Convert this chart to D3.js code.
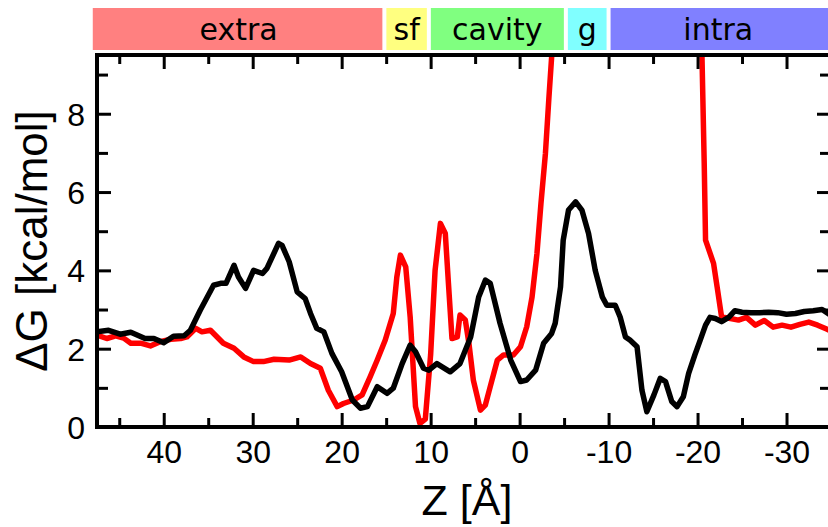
<!DOCTYPE html>
<html>
<head>
<meta charset="utf-8">
<script src="https://cdn.jsdelivr.net/npm/d3@7"></script>
<style>
  html, body { margin: 0; padding: 0; background: #fff; }
  svg { display: block; }
</style>
</head>
<body>
<svg id="chart" width="828" height="527"></svg>
<script>
// ---- data ----
const regionNames = ["extra", "sf", "cavity", "g", "intra"];
const regionBounds = [48.2, 15.2, 10.2, -5.2, -10, -36];
const regionColors = ["#ff8080", "#ffff80", "#80ff80", "#80ffff", "#8080ff"];

const zBlack = [47.5, 46.2, 44.9, 43.7, 42.1, 41.1, 40.0, 38.9, 37.7, 37.0, 35.9, 34.4, 33.6, 33.0, 32.1, 31.6, 30.8, 29.9, 28.9, 28.4,
  27.1, 26.7, 25.9, 25.0, 24.1, 23.5, 22.8, 22.0, 21.1, 20.0, 18.8, 17.9, 17.1, 16.0, 14.9, 14.2, 13.2, 12.3, 11.7, 10.8,
  10.2, 9.3, 7.8, 6.7, 5.5, 4.6, 3.85, 3.3, 2.2, 1.0, -0.1, -0.8, -1.8, -2.7, -3.6, -4.0, -4.6, -4.9, -5.5, -6.3,
  -7.0, -7.75, -8.5, -9.3, -9.8, -10.75, -11.3, -11.9, -12.4, -13.2, -13.75, -14.3, -15.1, -15.8, -16.4, -17.1, -17.7, -18.4, -19.0, -19.7,
  -20.3, -20.9, -21.4, -22.0, -22.7, -23.5, -24.2, -25, -26, -27, -28, -29, -30, -31, -32, -33, -34, -35];
const gBlack = [2.43, 2.47, 2.37, 2.42, 2.26, 2.26, 2.15, 2.32, 2.33, 2.47, 2.98, 3.62, 3.67, 3.67, 4.13, 3.83, 3.54, 4.0, 3.92, 4.05,
  4.69, 4.64, 4.22, 3.45, 3.28, 2.90, 2.52, 2.43, 1.88, 1.41, 0.69, 0.48, 0.52, 1.03, 0.86, 0.99, 1.62, 2.09, 1.92, 1.50,
  1.45, 1.62, 1.41, 1.62, 2.30, 3.32, 3.75, 3.67, 2.65, 1.71, 1.16, 1.20, 1.45, 2.14, 2.39, 2.65, 3.58, 4.77, 5.54, 5.75,
  5.54, 4.94, 4.0, 3.32, 3.11, 3.11, 2.81, 2.30, 2.22, 2.05, 0.94, 0.39, 0.82, 1.24, 1.16, 0.65, 0.52, 0.77, 1.37, 1.84,
  2.22, 2.60, 2.80, 2.77, 2.69, 2.80, 2.97, 2.93, 2.92, 2.92, 2.93, 2.92, 2.88, 2.90, 2.95, 2.97, 3.0, 2.85];

const zRed = [47.5, 46.4, 45.4, 44.5, 43.7, 42.6, 41.5, 40.4, 39.2, 38.1, 37.4, 36.4, 35.7, 34.75, 33.3, 32.1, 31.0, 29.9, 28.8, 27.6,
  25.9, 24.6, 23.5, 22.4, 21.5, 20.5, 19.8, 18.65, 17.7, 16.8, 16.0, 15.1, 14.2, 13.8, 13.4, 12.8, 12.3, 11.7, 11.2, 10.6,
  10.0, 9.5, 8.9, 8.35, 8.0, 7.6, 7.0, 6.7, 6.1, 5.7, 5.2, 4.4, 3.85, 3.3, 2.5, 1.8, 0.7, -0.1, -0.8, -1.4,
  -1.95, -2.4, -2.9, -3.3, -3.6, -3.9, -20.3, -20.5, -20.75, -20.9, -21.8, -22.2, -22.7, -23.7, -24.6, -25.5, -26.5, -27.5, -28.5, -29.5,
  -30.5, -31.5, -32.5, -33.5, -34.5, -35];
const gRed = [2.35, 2.26, 2.33, 2.27, 2.14, 2.14, 2.07, 2.18, 2.24, 2.26, 2.30, 2.52, 2.43, 2.47, 2.14, 2.01, 1.79, 1.67, 1.67, 1.73,
  1.71, 1.79, 1.62, 1.50, 0.94, 0.52, 0.60, 0.69, 0.82, 1.28, 1.71, 2.22, 2.90, 3.83, 4.39, 4.09, 2.81, 0.52, 0.09, 0.20,
  1.85, 4.0, 5.2, 4.94, 3.67, 2.26, 2.30, 2.86, 2.73, 2.14, 1.20, 0.43, 0.56, 1.03, 1.71, 1.84, 1.84, 2.05, 2.56, 3.32,
  4.43, 5.71, 6.98, 8.43, 9.45, 10.4, 10.4, 9.45, 6.73, 4.77, 4.18, 3.58, 2.81, 2.77, 2.73, 2.80, 2.60, 2.72, 2.55, 2.60,
  2.55, 2.62, 2.68, 2.60, 2.50, 2.45];

const xMajorTicks = [40, 30, 20, 10, 0, -10, -20, -30];
const xMinorTicks = [45, 35, 25, 15, 5, -5, -15, -25];
const yMajorTicks = [0, 2, 4, 6, 8];
const yMinorTicks = [1, 3, 5, 7, 9];
const xTitle = "Z [Å]";
const yTitle = "ΔG [kcal/mol]";

// ---- layout ----
const L = 97, R = 831, T = 55, B = 427;
const svg = d3.select("#chart");
const x = d3.scaleLinear().domain([47.5, -35]).range([L, R]);
const y = d3.scaleLinear().domain([0, 9.5]).range([B, T]);

// region bars
const regions = regionNames.map((n, i) => ({ name: n, z0: regionBounds[i], z1: regionBounds[i + 1], color: regionColors[i] }));
const rg = svg.append("g");
rg.selectAll("rect").data(regions).join("rect")
  .attr("x", d => x(d.z0) + 2)
  .attr("width", d => x(d.z1) - x(d.z0) - 4)
  .attr("y", 8).attr("height", 42)
  .attr("fill", d => d.color);
rg.selectAll("text").data(regions).join("text")
  .attr("x", d => (Math.max(x(d.z0), L - 4) + Math.min(x(d.z1), 828)) / 2)
  .attr("y", 40)
  .attr("text-anchor", "middle")
  .attr("font-family", "DejaVu Sans")
  .attr("font-size", 30)
  .attr("fill", "#000")
  .text(d => d.name);

// clip
svg.append("clipPath").attr("id", "clip").append("rect")
  .attr("x", L).attr("y", T).attr("width", R - L).attr("height", B - T);

const line = d3.line().x(d => x(d[0])).y(d => y(d[1]));
const redData = zRed.map((z, i) => [z, gRed[i]]);
const blackData = zBlack.map((z, i) => [z, gBlack[i]]);

const lg = svg.append("g").attr("clip-path", "url(#clip)");
lg.append("path").datum(redData).attr("d", line)
  .attr("fill", "none").attr("stroke", "#ff0000").attr("stroke-width", 5.5)
  .attr("stroke-linejoin", "round");
lg.append("path").datum(blackData).attr("d", line)
  .attr("fill", "none").attr("stroke", "#000").attr("stroke-width", 5.5)
  .attr("stroke-linejoin", "round");

// axes
function styleAxis(g) {
  g.select(".domain").remove();
  g.selectAll(".tick line").attr("stroke", "#000").attr("stroke-width", 3);
  g.selectAll("text").attr("font-family", "Liberation Sans, Arial, sans-serif").attr("font-size", 32).attr("fill", "#000");
}
const fmt = d => String(d);

svg.append("g").attr("transform", `translate(0,${B})`)
  .call(d3.axisBottom(x).tickValues(xMajorTicks).tickSize(-14).tickFormat(fmt))
  .call(styleAxis)
  .call(g => g.selectAll("text").attr("y", 36).attr("dy", null));
svg.append("g").attr("transform", `translate(0,${B})`)
  .call(d3.axisBottom(x).tickValues(xMinorTicks).tickSize(-9).tickFormat(""))
  .call(styleAxis);
svg.append("g").attr("transform", `translate(0,${T})`)
  .call(d3.axisTop(x).tickValues(xMajorTicks).tickSize(-14).tickFormat(""))
  .call(styleAxis);
svg.append("g").attr("transform", `translate(0,${T})`)
  .call(d3.axisTop(x).tickValues(xMinorTicks).tickSize(-9).tickFormat(""))
  .call(styleAxis);

svg.append("g").attr("transform", `translate(${L},0)`)
  .call(d3.axisLeft(y).tickValues(yMajorTicks).tickSize(-14).tickFormat(fmt))
  .call(styleAxis)
  .call(g => g.selectAll("text").attr("x", -12).attr("dy", "0.36em"));
svg.append("g").attr("transform", `translate(${L},0)`)
  .call(d3.axisLeft(y).tickValues(yMinorTicks).tickSize(-11).tickFormat(""))
  .call(styleAxis);
svg.append("g").attr("transform", `translate(${R},0)`)
  .call(d3.axisRight(y).tickValues(yMajorTicks).tickSize(-14).tickFormat(""))
  .call(styleAxis);
svg.append("g").attr("transform", `translate(${R},0)`)
  .call(d3.axisRight(y).tickValues(yMinorTicks).tickSize(-11).tickFormat(""))
  .call(styleAxis);

// frame
svg.append("rect").attr("x", L).attr("y", T).attr("width", R - L).attr("height", B - T)
  .attr("fill", "none").attr("stroke", "#000").attr("stroke-width", 4);

// titles
svg.append("text").attr("x", 467).attr("y", 515)
  .attr("text-anchor", "middle")
  .attr("font-family", "Liberation Sans, Arial, sans-serif").attr("font-size", 43)
  .text(xTitle);
svg.append("text")
  .attr("transform", `translate(47,${(T + B) / 2}) rotate(-90)`)
  .attr("text-anchor", "middle")
  .attr("font-family", "Liberation Sans, Arial, sans-serif").attr("font-size", 44)
  .text(yTitle);
</script>
</body>
</html>
